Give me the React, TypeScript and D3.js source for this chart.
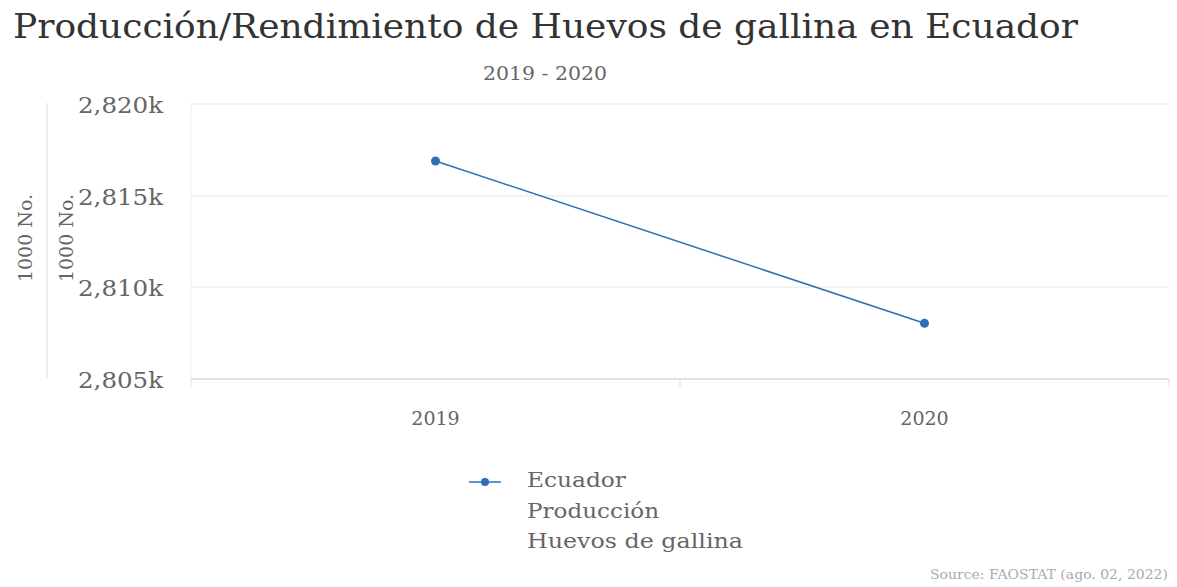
import React from "react";
import * as d3 from "d3";

const categories = ["2019", "2020"];
const values = [2816890, 2808040];
const yTicks = [2805000, 2810000, 2815000, 2820000];
const seriesName = ["Ecuador", "Producción", "Huevos de gallina"];
const legendWidths = [99, 132, 216];

const W = 1177;
const H = 587;
const FONT = "'DejaVu Serif', serif";

export default function App() {
  const left = 191, right = 1169, top = 104, bottom = 379;
  const x = d3.scaleBand<string>().domain(categories).range([left, right]);
  const y = d3.scaleLinear().domain([2805000, 2820000]).range([bottom, top]);
  const line = d3
    .line<number>()
    .x((_, i) => (x(categories[i]) as number) + x.bandwidth() / 2)
    .y((d) => y(d));
  const fmt = (v: number) => d3.format(",")(v / 1000) + "k";
  const color = "#2e6fb7";

  return (
    <svg width={W} height={H} style={{ position: "absolute", left: 0, top: 0, background: "#fff" }}>
      <text x={13} y={38} fontFamily={FONT} fontSize={33} fill="#333" textLength={1065} lengthAdjust="spacingAndGlyphs">
        Producción/Rendimiento de Huevos de gallina en Ecuador
      </text>
      <text x={545} y={80} textAnchor="middle" fontFamily={FONT} fontSize={19} fill="#666" textLength={124} lengthAdjust="spacingAndGlyphs">
        2019 - 2020
      </text>
      {yTicks.map((t) => (
        <line key={t} x1={left} x2={right} y1={y(t)} y2={y(t)} stroke="#f0f0f0" strokeWidth={1.5} />
      ))}
      <line x1={left} x2={left} y1={top} y2={bottom} stroke="#eeeeee" />
      <line x1={47} x2={47} y1={103} y2={378} stroke="#dddddd" />
      <line x1={left} x2={right} y1={bottom} y2={bottom} stroke="#dddddd" strokeWidth={1.5} />
      {[left, left + x.bandwidth(), right].map((px, i) => (
        <line key={i} x1={px} x2={px} y1={bottom} y2={bottom + 8} stroke="#dddddd" />
      ))}
      {yTicks.map((t) => (
        <text key={t} x={163} y={y(t) + 9} textAnchor="end" fontFamily={FONT} fontSize={22} fill="#666" textLength={85} lengthAdjust="spacingAndGlyphs">
          {fmt(t)}
        </text>
      ))}
      <text transform={`translate(32,238) rotate(-90)`} textAnchor="middle" fontFamily={FONT} fontSize={19} fill="#666">
        1000 No.
      </text>
      <text transform={`translate(73,238) rotate(-90)`} textAnchor="middle" fontFamily={FONT} fontSize={19} fill="#666">
        1000 No.
      </text>
      {categories.map((c) => (
        <text key={c} x={(x(c) as number) + x.bandwidth() / 2} y={425} textAnchor="middle" fontFamily={FONT} fontSize={19} fill="#666">
          {c}
        </text>
      ))}
      <path d={line(values) || ""} fill="none" stroke={color} strokeWidth={1.5} />
      {values.map((v, i) => (
        <circle key={i} cx={(x(categories[i]) as number) + x.bandwidth() / 2} cy={y(v)} r={4.5} fill={color} />
      ))}
      <line x1={469} x2={501} y1={482} y2={482} stroke={color} strokeWidth={1.5} />
      <circle cx={485} cy={482} r={4} fill={color} />
      {seriesName.map((s, i) => (
        <text key={s} x={527} y={487 + i * 30.5} fontFamily={FONT} fontSize={21} fill="#666" textLength={legendWidths[i]} lengthAdjust="spacingAndGlyphs">
          {s}
        </text>
      ))}
      <text x={1168} y={579} textAnchor="end" fontFamily={FONT} fontSize={12} fill="#aaa" textLength={238} lengthAdjust="spacingAndGlyphs">
        Source: FAOSTAT (ago. 02, 2022)
      </text>
    </svg>
  );
}
